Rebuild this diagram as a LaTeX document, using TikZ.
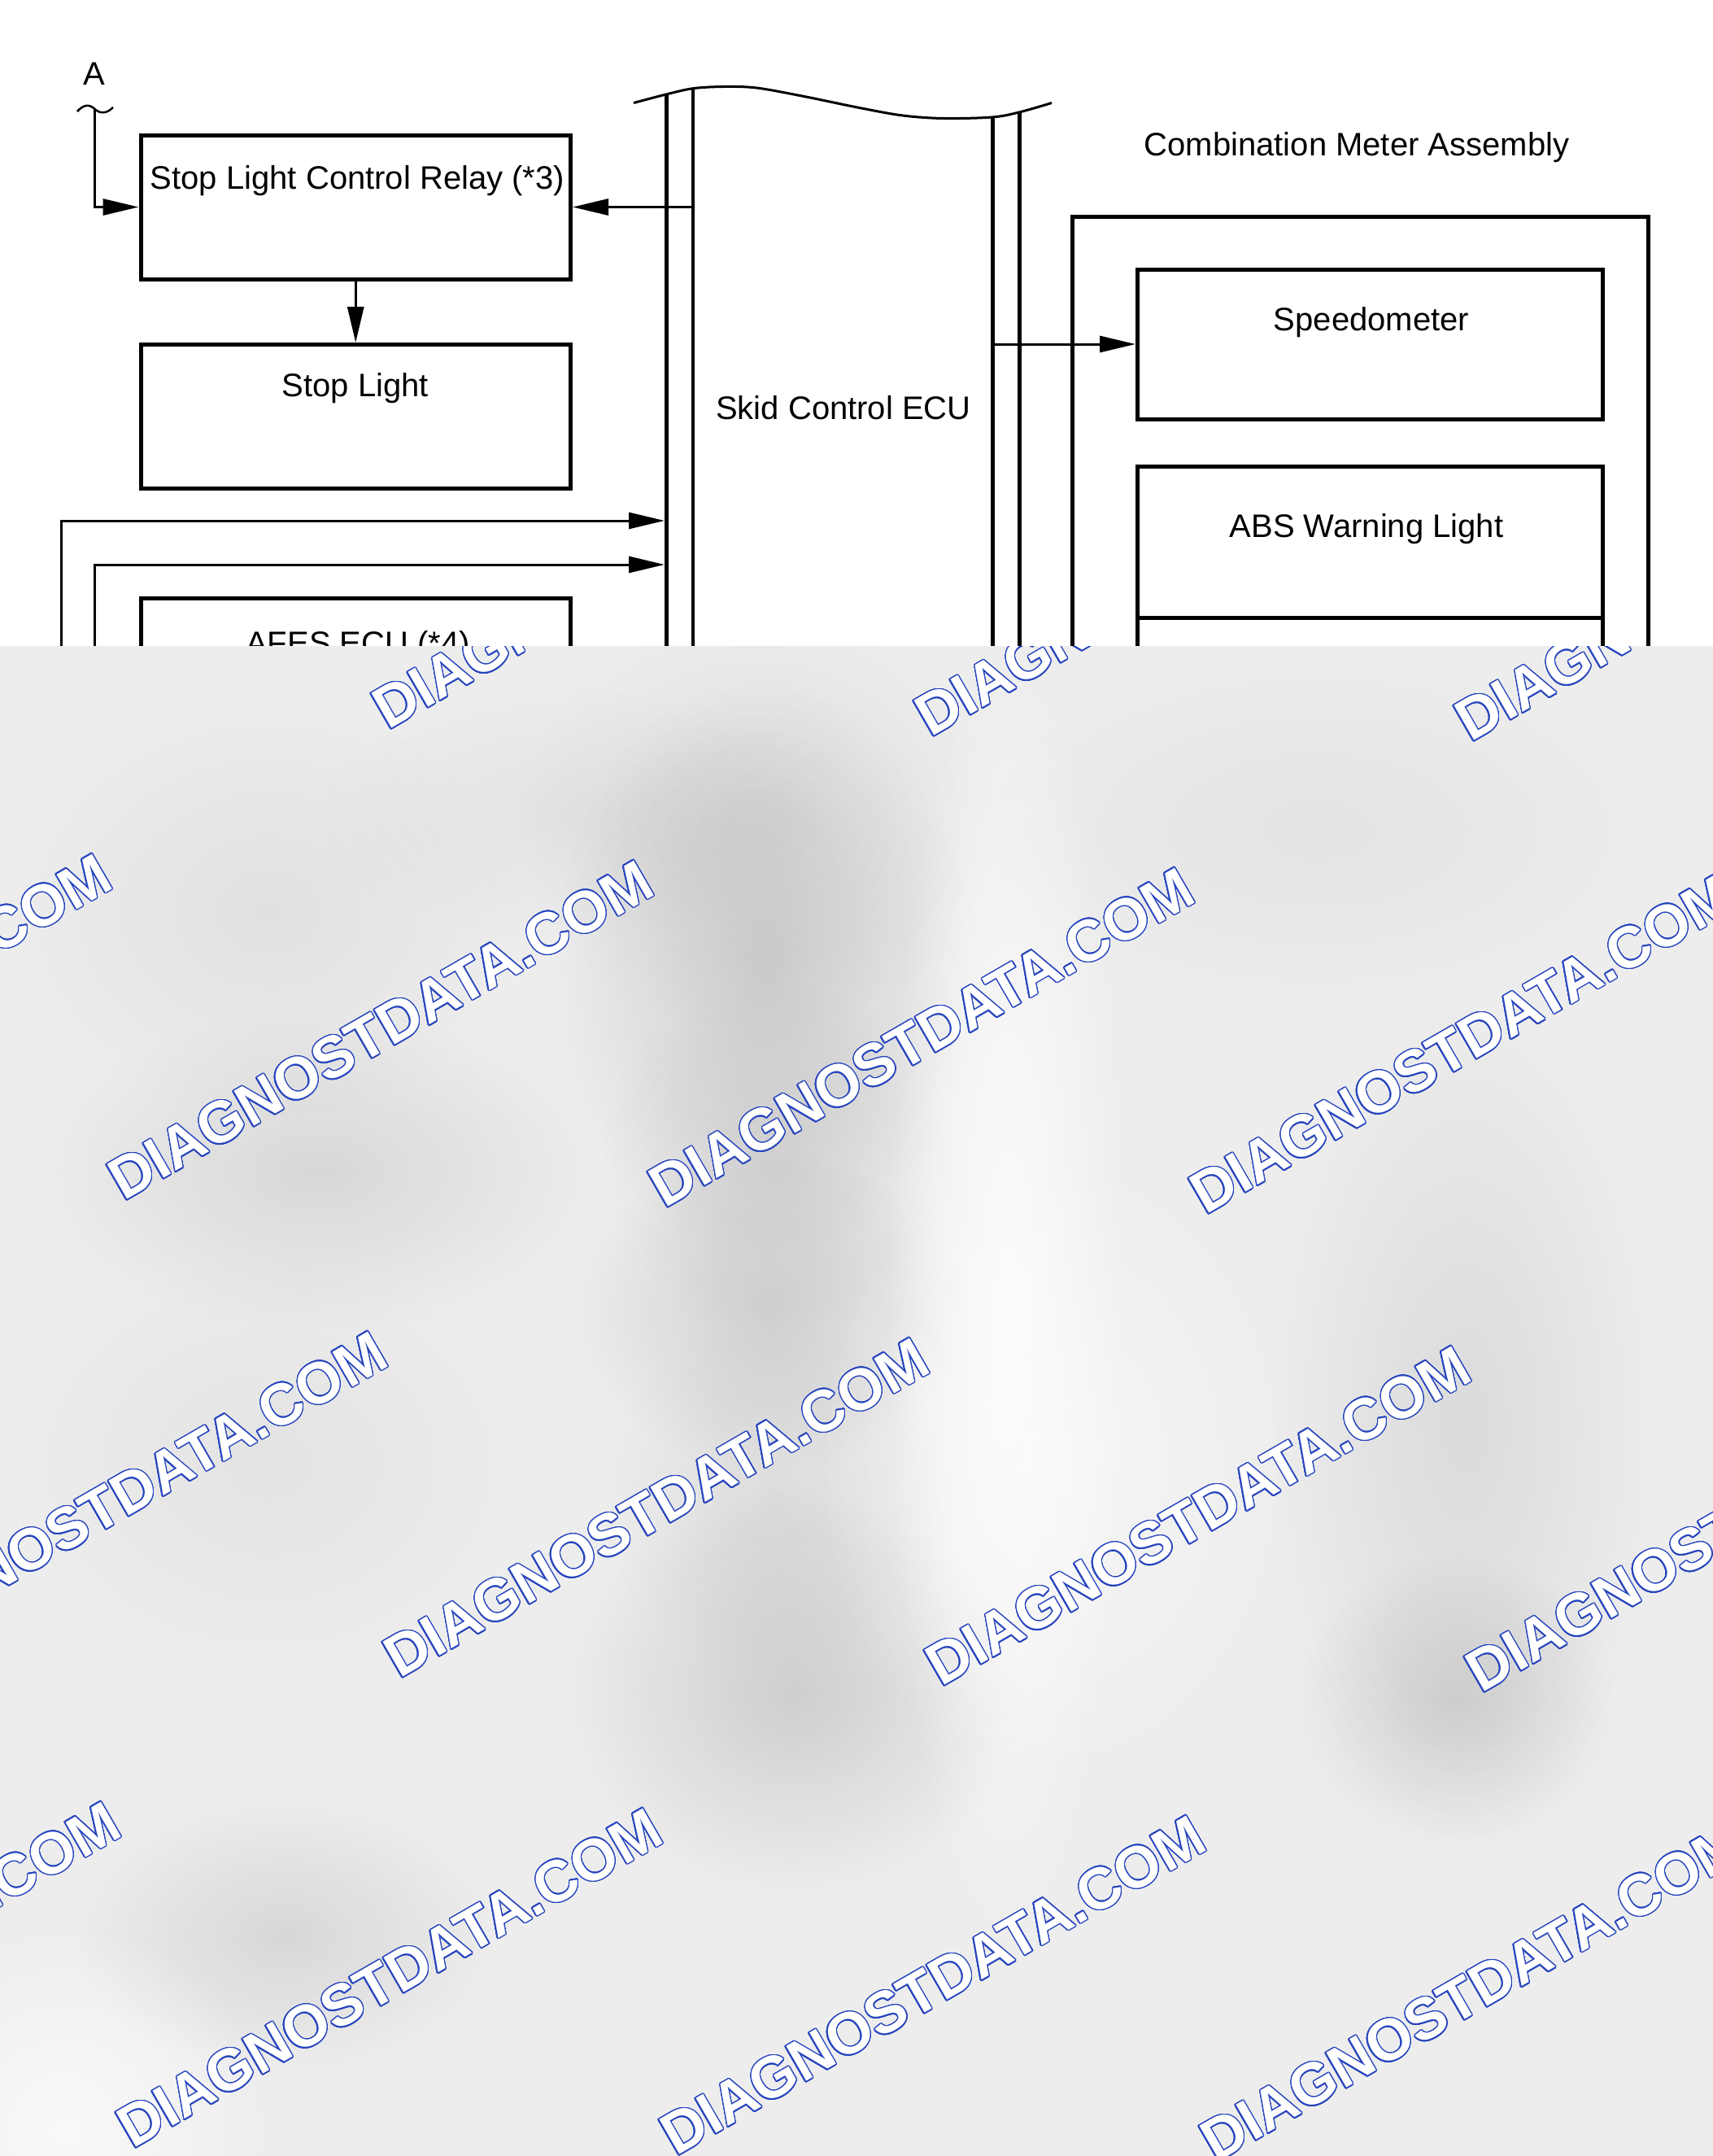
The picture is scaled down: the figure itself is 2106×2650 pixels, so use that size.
\documentclass[tikz,border=0pt]{standalone}
\usepackage{fontspec}
\setmainfont{Liberation Sans}
\usepackage[copies]{contour}
\contourlength{1.4pt}
\contournumber{24}
\usetikzlibrary{arrows.meta,fadings}
\definecolor{wmblue}{RGB}{38,68,190}
\definecolor{bgray}{RGB}{237,237,237}
\tikzfading[name=blobfade, inner color=transparent!0, outer color=transparent!100]
\newcommand\myblob[5]{\fill[black, opacity=#5, path fading=blobfade] (#1,#2) ellipse [x radius=#3, y radius=#4];}
\newcommand\mywhite[5]{\fill[white, opacity=#5, path fading=blobfade] (#1,#2) ellipse [x radius=#3, y radius=#4];}
\begin{document}
\begin{tikzpicture}[x=1pt,y=-1pt,
  box/.style={draw, line width=5pt, inner sep=0pt},
  bus/.style={line width=4.5pt},
  conn/.style={line width=3pt},
  tip/.style={-{Triangle[length=44pt,width=20pt]}},
  lbl/.style={font=\fontsize{40}{48}\selectfont, inner sep=0pt, anchor=base},
  wm/.style={font=\fontsize{72}{80}\selectfont\bfseries, inner sep=0pt, anchor=base west, rotate=30}
]
\useasboundingbox (0,0) rectangle (2106,2650);
\fill[white] (0,0) rectangle (2106,2650);

% ---- left column boxes
\node[box, minimum width=528.5pt, minimum height=177pt] (relay) at (437.25,254.5) {};
\node[box, minimum width=528.5pt, minimum height=177pt] (stop) at (437.25,512) {};
\node[box, minimum width=528.5pt, minimum height=177pt] (afes) at (437.25,823.5) {};

\node[lbl] (tA) at (116,104.6) {A};
\node[lbl] (tRelay) at (439.5,232) {Stop Light Control Relay (*3)};
\node[lbl] (tStop) at (437,487) {Stop Light};
\node[lbl] (tAfes) at (440,804) {AFES ECU (*4)};

% tilde and A input
\draw[line width=2.5pt] (95,137) .. controls (103,128) and (110,128) .. (116.5,134) .. controls (123,140) and (131,140) .. (139,132);
\coordinate (Aend) at (116.5,134);
\draw[conn,tip] (Aend) |- (relay.west);
\draw[conn,tip] (relay.south) -- (stop.north);

% ---- skid control ECU bus
\draw[line width=3pt] plot[smooth, tension=0.55] coordinates {(779,126.5) (819,116) (852,108.7) (890,106.5) (930,108) (986,118) (1057,132.6) (1110,142) (1160,145.5) (1220,144) (1253.6,137.8) (1293,126.5)};
\coordinate (bLa) at (819.5,116);  \coordinate (bLaB) at (819.5,800);
\coordinate (bLb) at (852,109);    \coordinate (bLbB) at (852,800);
\coordinate (bRa) at (1220.5,144); \coordinate (bRaB) at (1220.5,800);
\coordinate (bRb) at (1253.5,138); \coordinate (bRbB) at (1253.5,800);
\draw[bus] (bLa) -- (bLaB);
\draw[bus] (bLb) -- (bLbB);
\draw[bus] (bRa) -- (bRaB);
\draw[bus] (bRb) -- (bRbB);
\node[lbl] (tSkid) at (1037,515) {Skid Control ECU};

% inputs into the bus
\coordinate (in1) at (75.5,800);  \coordinate (busIn1) at (817,640);
\coordinate (in2) at (116.5,800); \coordinate (busIn2) at (817,694);
\draw[conn,tip] (in1) |- (busIn1);
\draw[conn,tip] (in2) |- (busIn2);

% ---- combination meter assembly
\node[lbl] (tComb) at (1668,191) {Combination Meter Assembly};
\node[box, minimum width=708pt, minimum height=734pt] (cma) at (1672,633) {};
\node[box, minimum width=572pt, minimum height=184pt] (speedo) at (1684.5,423) {};
\node[box, minimum width=572pt, minimum height=186pt] (abs) at (1684.5,666) {};
\node[box, minimum width=572pt, minimum height=191pt] (nextbox) at (1684.5,854.5) {};
\node[lbl] (tSpeed) at (1686,406) {Speedometer};
\node[lbl] (tABS) at (1680,660) {ABS Warning Light};

% outputs from the bus
\coordinate (busOut1) at (852,254.5);
\coordinate (busOut2) at (1220.5,423);
\draw[conn,tip] (busOut1) -- (relay.east);
\draw[conn,tip] (busOut2) -- (speedo.west);

% ---- blurred, watermarked lower part
\begin{scope}
\clip (0,794) rectangle (2106,2650);
\fill[bgray] (0,794) rectangle (2106,2650);
% dark blurred band (bus lines)
\myblob{930}{1010}{300}{260}{0.06}
\myblob{940}{1190}{260}{360}{0.13}
\myblob{955}{1420}{220}{220}{0.07}
\myblob{945}{1610}{240}{200}{0.12}
\myblob{955}{1840}{220}{220}{0.07}
\myblob{975}{2080}{280}{250}{0.13}
\myblob{700}{1000}{320}{160}{0.04}
% left blurred boxes
\myblob{390}{1440}{340}{200}{0.09}
\myblob{330}{1120}{320}{260}{0.05}
\myblob{330}{1800}{320}{260}{0.04}
\myblob{350}{2380}{260}{170}{0.09}
% right blurred boxes
\myblob{1800}{1750}{240}{520}{0.08}
\myblob{1790}{2090}{200}{180}{0.11}
\myblob{1620}{1020}{420}{220}{0.04}
% light areas
\mywhite{1240}{1600}{150}{820}{0.85}
\mywhite{1300}{1800}{300}{400}{0.5}
\mywhite{80}{2620}{260}{260}{0.7}
% watermarks
\foreach \wx/\wy [count=\i] in {-189/890, 477/898, 1144/907, 1808/913,
   -514/1469, 152/1477, 817/1486, 1482/1494,
   -175/2056, 491/2064, 1157/2074, 1821/2082,
   -503/2634, 163/2642, 831/2651, 1495/2659}
  \node[wm] (wm\i) at (\wx,\wy) {\contour{wmblue}{\textcolor{white}{DIAGNOSTDATA.COM}}};
\end{scope}
\end{tikzpicture}
\end{document}
